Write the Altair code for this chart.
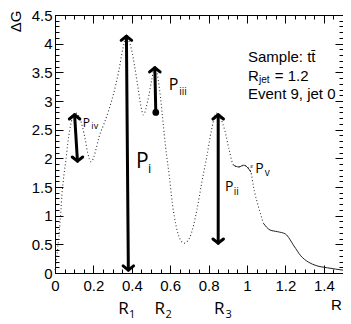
import altair as alt
import pandas as pd

# ---------------- data ----------------
R_VALUES = [0.0, 0.01, 0.02, 0.026, 0.031, 0.036, 0.042, 0.05, 0.058, 0.066, 0.076, 0.092, 0.107,
            0.127, 0.143, 0.158, 0.170, 0.188, 0.213, 0.229, 0.255, 0.28, 0.306, 0.33, 0.356, 0.372,
            0.385, 0.397, 0.416, 0.434, 0.448, 0.46, 0.484, 0.504, 0.52, 0.545, 0.56, 0.576, 0.596,
            0.611, 0.632, 0.65, 0.672, 0.703, 0.739, 0.764, 0.79, 0.815, 0.84, 0.862, 0.885, 0.907,
            0.93, 0.958, 0.983, 1.0, 1.02, 1.034, 1.06, 1.085, 1.12, 1.16, 1.2, 1.245, 1.28, 1.32,
            1.36, 1.42, 1.5]
DG_VALUES = [0.05, 0.3, 0.63, 0.87, 1.1, 1.36, 1.58, 1.8, 2.0, 2.25, 2.48, 2.72, 2.79,
             2.72, 2.55, 2.32, 2.1, 1.94, 2.15, 2.37, 2.6, 2.84, 3.14, 3.49, 3.95, 4.15,
             4.05, 3.92, 3.58, 3.2, 2.9, 2.76, 3.02, 3.37, 3.6, 3.19, 2.72, 2.2, 1.67,
             1.22, 0.8, 0.6, 0.52, 0.63, 1.1, 1.57, 2.02, 2.49, 2.79, 2.7, 2.48, 2.15,
             1.88, 1.85, 1.88, 1.85, 1.76, 1.5, 1.15, 0.87, 0.75, 0.72, 0.68, 0.47, 0.3, 0.19,
             0.13, 0.09, 0.05]

X_MAJOR = [0, 0.2, 0.4, 0.6, 0.8, 1.0, 1.2, 1.4]
X_MINOR = [0, 0.05, 0.1, 0.15, 0.2, 0.25, 0.3, 0.35, 0.4, 0.45, 0.5, 0.55, 0.6, 0.65, 0.7, 0.75,
           0.8, 0.85, 0.9, 0.95, 1.0, 1.05, 1.1, 1.15, 1.2, 1.25, 1.3, 1.35, 1.4, 1.45, 1.5]
Y_MAJOR = [0, 0.5, 1, 1.5, 2, 2.5, 3, 3.5, 4, 4.5]
Y_MINOR = [0, 0.1, 0.2, 0.3, 0.4, 0.5, 0.6, 0.7, 0.8, 0.9, 1.0, 1.1, 1.2, 1.3, 1.4, 1.5, 1.6, 1.7,
           1.8, 1.9, 2.0, 2.1, 2.2, 2.3, 2.4, 2.5, 2.6, 2.7, 2.8, 2.9, 3.0, 3.1, 3.2, 3.3, 3.4, 3.5,
           3.6, 3.7, 3.8, 3.9, 4.0, 4.1, 4.2, 4.3, 4.4, 4.5]

# hand-drawn arrows (start = top, end = bottom)
ARROW_NAME = ["Piv", "Pi", "Piii", "Pii"]
ARROW_R_TOP = [0.102, 0.372, 0.52, 0.85]
ARROW_G_TOP = [2.76, 4.13, 3.58, 2.76]
ARROW_R_BOT = [0.117, 0.382, 0.525, 0.85]
ARROW_G_BOT = [1.95, 0.05, 2.80, 0.52]

# hand-written labels
HAND_TEXT = ["P", "iv", "P", "i", "P", "iii", "P", "ii", "ɛ", "P", "v",
             "R", "1", "R", "2", "R", "3"]
HAND_R = [0.163, 0.207, 0.455, 0.493, 0.618, 0.667, 0.907, 0.944, 1.024, 1.065, 1.105,
          0.357, 0.402, 0.545, 0.592, 0.856, 0.905]
HAND_G = [2.62, 2.56, 1.94, 1.82, 3.28, 3.15, 1.50, 1.42, 1.86, 1.81, 1.75,
          -0.62, -0.73, -0.62, -0.73, -0.62, -0.73]
HAND_SIZE = [12, 9, 21, 13, 16, 10, 14, 10, 7, 14, 10, 17, 11, 17, 11, 17, 11]

# info box
INFO_TEXT = ["Sample: tt\u0304", "R", "jet", "= 1.2", "Event 9, jet 0"]
INFO_R = [1.005, 1.005, 1.062, 1.145, 1.005]
INFO_G = [3.77, 3.44, 3.36, 3.44, 3.13]
INFO_SIZE = [15, 15, 10, 15, 15]

# ---------------- chart ----------------
W, H = 288, 258
FONT = "Liberation Sans"
HAND_FONT = "Open Sans"

curve = pd.DataFrame({"R": R_VALUES, "G": DG_VALUES})
xs = alt.Scale(domain=[0, 1.5], nice=False, zero=False)
ys = alt.Scale(domain=[0, 4.5], nice=False, zero=False)


def tick_axis(orient, offset, values, size):
    return alt.Axis(orient=orient, offset=offset, values=values, ticks=True, tickSize=size,
                    tickColor="black", tickWidth=1, labels=False, domain=False, grid=False,
                    title="")


def ghost(x_axis, y_axis):
    return alt.Chart(curve).mark_line(opacity=0).encode(
        x=alt.X("R:Q", scale=xs, axis=x_axis),
        y=alt.Y("G:Q", scale=ys, axis=y_axis),
    )


x_lab = alt.Axis(orient="bottom", values=X_MAJOR, format="~g", ticks=False, tickSize=0,
                 domain=False, grid=False, labelFont=FONT, labelFontSize=15,
                 labelColor="black", labelPadding=5, labelFlush=False, labelOverlap=False,
                 title="R", titleFont=FONT, titleFontSize=15, titleFontWeight="normal",
                 titleColor="black", titleX=281, titleY=31, titleAlign="center",
                 titleBaseline="middle")
y_lab = alt.Axis(orient="left", values=Y_MAJOR, format="~g", ticks=False, tickSize=0,
                 domain=False, grid=False, labelFont=FONT, labelFontSize=15,
                 labelColor="black", labelPadding=3, labelFlush=False, labelOverlap=False,
                 title="ΔG", titleFont=FONT, titleFontSize=15, titleFontWeight="normal",
                 titleColor="black", titleAngle=270, titleX=-40, titleY=-5,
                 titleAlign="right", titleBaseline="middle")

layers = [
    ghost(x_lab, y_lab),
    ghost(tick_axis("top", -H, X_MAJOR, 8), tick_axis("right", -W, Y_MAJOR, 8)),
    ghost(tick_axis("top", -H, X_MINOR, 4), tick_axis("right", -W, Y_MINOR, 4)),
    ghost(tick_axis("bottom", -H, X_MAJOR, 8), tick_axis("left", -W, Y_MAJOR, 8)),
    ghost(tick_axis("bottom", -H, X_MINOR, 4), tick_axis("left", -W, Y_MINOR, 4)),
]

X = lambda f="R": alt.X(f"{f}:Q", scale=xs, axis=None)
Y = lambda f="G": alt.Y(f"{f}:Q", scale=ys, axis=None)

base = alt.Chart(curve)
layers.append(base.mark_line(color="#333", strokeWidth=1.1, strokeDash=[1, 2.4],
                             interpolate="monotone")
              .transform_filter("datum.R <= 1.085").encode(x=X(), y=Y()))
layers.append(base.mark_line(color="#222", strokeWidth=1, interpolate="monotone")
              .transform_filter("datum.R >= 0.93 && datum.R <= 1.02").encode(x=X(), y=Y()))
layers.append(base.mark_line(color="#222", strokeWidth=1, interpolate="monotone")
              .transform_filter("datum.R >= 1.085").encode(x=X(), y=Y()))

arrows = pd.DataFrame({"name": ARROW_NAME, "R1": ARROW_R_TOP, "G1": ARROW_G_TOP,
                       "R2": ARROW_R_BOT, "G2": ARROW_G_BOT})
arr = alt.Chart(arrows)
layers.append(arr.mark_rule(color="black", strokeWidth=3, strokeCap="round").encode(
    x=X("R1"), y=Y("G1"), x2="R2:Q", y2="G2:Q"))
UP = "M-1,0.8L0,0L1,0.8"
DOWN = "M-1,-0.8L0,0L1,-0.8"
layers.append(arr.mark_point(shape=UP, filled=False, color="black", strokeWidth=3,
                             size=110, opacity=1, strokeCap="round", strokeJoin="round")
              .encode(x=X("R1"), y=Y("G1")))
layers.append(arr.mark_point(shape=DOWN, filled=False, color="black", strokeWidth=3,
                             size=110, opacity=1, strokeCap="round", strokeJoin="round")
              .transform_filter("datum.name != 'Piii'")
              .encode(x=X("R2"), y=Y("G2")))
layers.append(arr.mark_circle(color="black", size=45, opacity=1)
              .transform_filter("datum.name == 'Piii'")
              .encode(x=X("R2"), y=Y("G2")))

for t, r, g, s in zip(HAND_TEXT, HAND_R, HAND_G, HAND_SIZE):
    d = pd.DataFrame({"t": [t], "R": [r], "G": [g]})
    layers.append(alt.Chart(d).mark_text(font=HAND_FONT, fontSize=s, color="black",
                                         align="center", baseline="middle")
                  .encode(x=X(), y=Y(), text="t:N"))

for t, r, g, s in zip(INFO_TEXT, INFO_R, INFO_G, INFO_SIZE):
    d = pd.DataFrame({"t": [t], "R": [r], "G": [g]})
    layers.append(alt.Chart(d).mark_text(font=FONT, fontSize=s, color="black",
                                         align="left", baseline="middle")
                  .encode(x=X(), y=Y(), text="t:N"))

chart = (
    alt.layer(*layers)
    .resolve_axis(x="independent", y="independent")
    .properties(width=W, height=H, autosize=alt.AutoSizeParams(type="none"),
                padding={"left": 47, "top": 7, "right": 0, "bottom": 47},
                background="white")
    .configure_view(stroke="black", strokeWidth=1)
)

chart.save("out.html", embed_options={"renderer": "svg", "actions": False})
